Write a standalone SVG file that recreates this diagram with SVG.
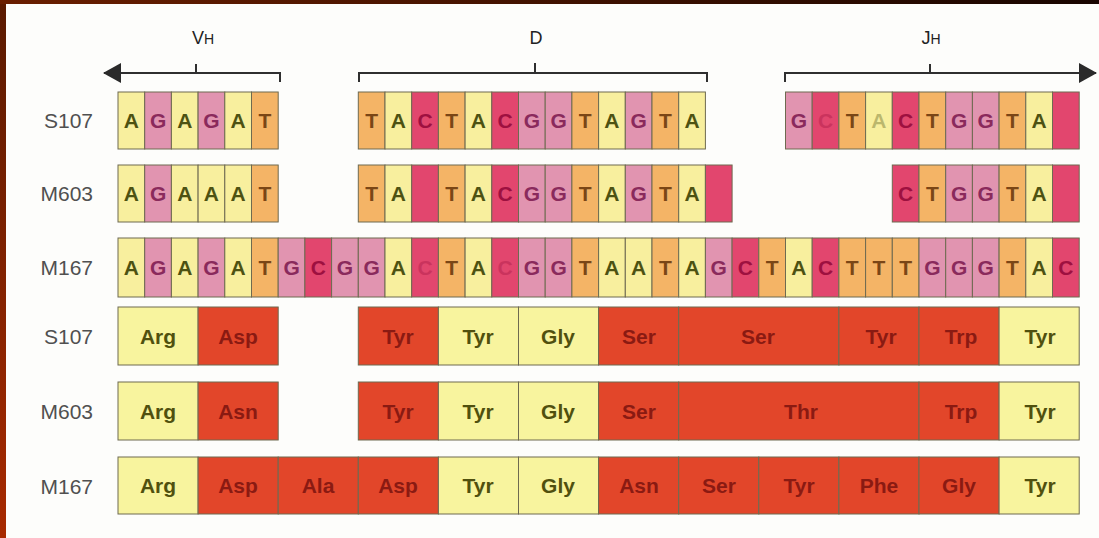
<svg xmlns="http://www.w3.org/2000/svg" width="1099" height="538" viewBox="0 0 1099 538">
<defs>
<linearGradient id="gl" x1="0" y1="0" x2="0" y2="1"><stop offset="0" stop-color="#5a1a00"/><stop offset="1" stop-color="#a82a00"/></linearGradient>
<linearGradient id="gt" x1="0" y1="0" x2="1" y2="0"><stop offset="0" stop-color="#6a1e00"/><stop offset="1" stop-color="#180500"/></linearGradient>
<marker id="ah" viewBox="0 0 18 20" refX="17" refY="10" markerWidth="18" markerHeight="20" markerUnits="userSpaceOnUse" orient="auto-start-reverse"><path d="M0,0 L18,10 L0,20 Z" fill="#2a2a2a"/></marker>
</defs>
<style>
.A{fill:#f8ef9e}.G{fill:#e194b0}.T{fill:#f4b466}.C{fill:#e2466e}.Y{fill:#f8f49e}.R{fill:#e2462a}
.A,.G,.T,.C,.Y,.R{stroke:#6e6a50;stroke-width:1}
.nt{font-family:"Liberation Sans",Arial,sans-serif;font-size:21px;font-weight:bold;text-anchor:middle}
.tA{fill:#4d5212}.tG{fill:#8a2a5c}.tT{fill:#7a4616}.tC{fill:#9e1040}.faint{opacity:0.35}
.aa{font-family:"Liberation Sans",Arial,sans-serif;font-size:21px;font-weight:bold;text-anchor:middle}
.ay{fill:#50500e}.ar{fill:#8a1a12}
.lbl{font-family:"Liberation Sans",Arial,sans-serif;font-size:21px;fill:#505050;text-anchor:end}
.hd{font-family:"Liberation Sans",Arial,sans-serif;font-size:18px;fill:#222;text-anchor:middle}
.br{fill:none;stroke:#2f2f2f;stroke-width:2}
</style>
<rect x="0" y="0" width="1099" height="538" fill="#fdfdfb"/>
<rect x="0" y="0" width="6" height="538" fill="url(#gl)"/>
<rect x="0" y="0" width="1099" height="4" fill="url(#gt)"/>

<g id="headers">
<text class="hd" x="203" y="44">V<tspan font-size="14">H</tspan></text>
<text class="hd" x="536" y="44">D</text>
<text class="hd" x="931" y="44">J<tspan font-size="14">H</tspan></text>
</g>

<g id="connectors">
<path class="br" d="M280,82 V73 H104" marker-end="url(#ah)"/>
<path class="br" d="M196,73 V64"/>
<path class="br" d="M359,82 V73 H707 V82"/>
<path class="br" d="M535,73 V63"/>
<path class="br" d="M785,82 V73 H1096" marker-end="url(#ah)"/>
<path class="br" d="M930,73 V64"/>
</g>

<g id="labels">
<text class="lbl" x="93" y="128">S107</text>
<text class="lbl" x="93" y="201">M603</text>
<text class="lbl" x="93" y="275">M167</text>
<text class="lbl" x="93" y="344">S107</text>
<text class="lbl" x="93" y="419">M603</text>
<text class="lbl" x="93" y="494">M167</text>
</g>

<g id="s107-nt">
<rect class="A" x="118" y="92" width="26.7" height="57"/><text class="nt tA" x="131.35" y="128">A</text>
<rect class="G" x="144.7" y="92" width="26.7" height="57"/><text class="nt tG" x="158.05" y="128">G</text>
<rect class="A" x="171.4" y="92" width="26.7" height="57"/><text class="nt tA" x="184.75" y="128">A</text>
<rect class="G" x="198.1" y="92" width="26.7" height="57"/><text class="nt tG" x="211.45" y="128">G</text>
<rect class="A" x="224.8" y="92" width="26.7" height="57"/><text class="nt tA" x="238.15" y="128">A</text>
<rect class="T" x="251.5" y="92" width="26.7" height="57"/><text class="nt tT" x="264.85" y="128">T</text>

<rect class="T" x="358.3" y="92" width="26.7" height="57"/><text class="nt tT" x="371.65" y="128">T</text>
<rect class="A" x="385" y="92" width="26.7" height="57"/><text class="nt tA" x="398.35" y="128">A</text>
<rect class="C" x="411.7" y="92" width="26.7" height="57"/><text class="nt tC" x="425.05" y="128">C</text>
<rect class="T" x="438.4" y="92" width="26.7" height="57"/><text class="nt tT" x="451.75" y="128">T</text>
<rect class="A" x="465.1" y="92" width="26.7" height="57"/><text class="nt tA" x="478.45" y="128">A</text>
<rect class="C" x="491.8" y="92" width="26.7" height="57"/><text class="nt tC" x="505.15" y="128">C</text>
<rect class="G" x="518.5" y="92" width="26.7" height="57"/><text class="nt tG" x="531.85" y="128">G</text>
<rect class="G" x="545.2" y="92" width="26.7" height="57"/><text class="nt tG" x="558.55" y="128">G</text>
<rect class="T" x="571.9" y="92" width="26.7" height="57"/><text class="nt tT" x="585.25" y="128">T</text>
<rect class="A" x="598.6" y="92" width="26.7" height="57"/><text class="nt tA" x="611.95" y="128">A</text>
<rect class="G" x="625.3" y="92" width="26.7" height="57"/><text class="nt tG" x="638.65" y="128">G</text>
<rect class="T" x="652" y="92" width="26.7" height="57"/><text class="nt tT" x="665.35" y="128">T</text>
<rect class="A" x="678.7" y="92" width="26.7" height="57"/><text class="nt tA" x="692.05" y="128">A</text>

<rect class="G" x="785.5" y="92" width="26.7" height="57"/><text class="nt tG" x="798.85" y="128">G</text>
<rect class="C" x="812.2" y="92" width="26.7" height="57"/><text class="nt tC faint" x="825.55" y="128">C</text>
<rect class="T" x="838.9" y="92" width="26.7" height="57"/><text class="nt tT" x="852.25" y="128">T</text>
<rect class="A" x="865.6" y="92" width="26.7" height="57"/><text class="nt tA faint" x="878.95" y="128">A</text>
<rect class="C" x="892.3" y="92" width="26.7" height="57"/><text class="nt tC" x="905.65" y="128">C</text>
<rect class="T" x="919" y="92" width="26.7" height="57"/><text class="nt tT" x="932.35" y="128">T</text>
<rect class="G" x="945.7" y="92" width="26.7" height="57"/><text class="nt tG" x="959.05" y="128">G</text>
<rect class="G" x="972.4" y="92" width="26.7" height="57"/><text class="nt tG" x="985.75" y="128">G</text>
<rect class="T" x="999.1" y="92" width="26.7" height="57"/><text class="nt tT" x="1012.45" y="128">T</text>
<rect class="A" x="1025.8" y="92" width="26.7" height="57"/><text class="nt tA" x="1039.15" y="128">A</text>
<rect class="C" x="1052.5" y="92" width="26.7" height="57"/>
</g>

<g id="m603-nt">
<rect class="A" x="118" y="165" width="26.7" height="57"/><text class="nt tA" x="131.35" y="201">A</text>
<rect class="G" x="144.7" y="165" width="26.7" height="57"/><text class="nt tG" x="158.05" y="201">G</text>
<rect class="A" x="171.4" y="165" width="26.7" height="57"/><text class="nt tA" x="184.75" y="201">A</text>
<rect class="A" x="198.1" y="165" width="26.7" height="57"/><text class="nt tA" x="211.45" y="201">A</text>
<rect class="A" x="224.8" y="165" width="26.7" height="57"/><text class="nt tA" x="238.15" y="201">A</text>
<rect class="T" x="251.5" y="165" width="26.7" height="57"/><text class="nt tT" x="264.85" y="201">T</text>

<rect class="T" x="358.3" y="165" width="26.7" height="57"/><text class="nt tT" x="371.65" y="201">T</text>
<rect class="A" x="385" y="165" width="26.7" height="57"/><text class="nt tA" x="398.35" y="201">A</text>
<rect class="C" x="411.7" y="165" width="26.7" height="57"/>
<rect class="T" x="438.4" y="165" width="26.7" height="57"/><text class="nt tT" x="451.75" y="201">T</text>
<rect class="A" x="465.1" y="165" width="26.7" height="57"/><text class="nt tA" x="478.45" y="201">A</text>
<rect class="C" x="491.8" y="165" width="26.7" height="57"/><text class="nt tC" x="505.15" y="201">C</text>
<rect class="G" x="518.5" y="165" width="26.7" height="57"/><text class="nt tG" x="531.85" y="201">G</text>
<rect class="G" x="545.2" y="165" width="26.7" height="57"/><text class="nt tG" x="558.55" y="201">G</text>
<rect class="T" x="571.9" y="165" width="26.7" height="57"/><text class="nt tT" x="585.25" y="201">T</text>
<rect class="A" x="598.6" y="165" width="26.7" height="57"/><text class="nt tA" x="611.95" y="201">A</text>
<rect class="G" x="625.3" y="165" width="26.7" height="57"/><text class="nt tG" x="638.65" y="201">G</text>
<rect class="T" x="652" y="165" width="26.7" height="57"/><text class="nt tT" x="665.35" y="201">T</text>
<rect class="A" x="678.7" y="165" width="26.7" height="57"/><text class="nt tA" x="692.05" y="201">A</text>
<rect class="C" x="705.4" y="165" width="26.7" height="57"/>

<rect class="C" x="892.3" y="165" width="26.7" height="57"/><text class="nt tC" x="905.65" y="201">C</text>
<rect class="T" x="919" y="165" width="26.7" height="57"/><text class="nt tT" x="932.35" y="201">T</text>
<rect class="G" x="945.7" y="165" width="26.7" height="57"/><text class="nt tG" x="959.05" y="201">G</text>
<rect class="G" x="972.4" y="165" width="26.7" height="57"/><text class="nt tG" x="985.75" y="201">G</text>
<rect class="T" x="999.1" y="165" width="26.7" height="57"/><text class="nt tT" x="1012.45" y="201">T</text>
<rect class="A" x="1025.8" y="165" width="26.7" height="57"/><text class="nt tA" x="1039.15" y="201">A</text>
<rect class="C" x="1052.5" y="165" width="26.7" height="57"/>
</g>

<g id="m167-nt">
<rect class="A" x="118" y="238" width="26.7" height="59"/><text class="nt tA" x="131.35" y="275">A</text>
<rect class="G" x="144.7" y="238" width="26.7" height="59"/><text class="nt tG" x="158.05" y="275">G</text>
<rect class="A" x="171.4" y="238" width="26.7" height="59"/><text class="nt tA" x="184.75" y="275">A</text>
<rect class="G" x="198.1" y="238" width="26.7" height="59"/><text class="nt tG" x="211.45" y="275">G</text>
<rect class="A" x="224.8" y="238" width="26.7" height="59"/><text class="nt tA" x="238.15" y="275">A</text>
<rect class="T" x="251.5" y="238" width="26.7" height="59"/><text class="nt tT" x="264.85" y="275">T</text>
<rect class="G" x="278.2" y="238" width="26.7" height="59"/><text class="nt tG" x="291.55" y="275">G</text>
<rect class="C" x="304.9" y="238" width="26.7" height="59"/><text class="nt tC" x="318.25" y="275">C</text>
<rect class="G" x="331.6" y="238" width="26.7" height="59"/><text class="nt tG" x="344.95" y="275">G</text>
<rect class="G" x="358.3" y="238" width="26.7" height="59"/><text class="nt tG" x="371.65" y="275">G</text>
<rect class="A" x="385" y="238" width="26.7" height="59"/><text class="nt tA" x="398.35" y="275">A</text>
<rect class="C" x="411.7" y="238" width="26.7" height="59"/><text class="nt tC faint" x="425.05" y="275">C</text>
<rect class="T" x="438.4" y="238" width="26.7" height="59"/><text class="nt tT" x="451.75" y="275">T</text>
<rect class="A" x="465.1" y="238" width="26.7" height="59"/><text class="nt tA" x="478.45" y="275">A</text>
<rect class="C" x="491.8" y="238" width="26.7" height="59"/><text class="nt tC faint" x="505.15" y="275">C</text>
<rect class="G" x="518.5" y="238" width="26.7" height="59"/><text class="nt tG" x="531.85" y="275">G</text>
<rect class="G" x="545.2" y="238" width="26.7" height="59"/><text class="nt tG" x="558.55" y="275">G</text>
<rect class="T" x="571.9" y="238" width="26.7" height="59"/><text class="nt tT" x="585.25" y="275">T</text>
<rect class="A" x="598.6" y="238" width="26.7" height="59"/><text class="nt tA" x="611.95" y="275">A</text>
<rect class="A" x="625.3" y="238" width="26.7" height="59"/><text class="nt tA" x="638.65" y="275">A</text>
<rect class="T" x="652" y="238" width="26.7" height="59"/><text class="nt tT" x="665.35" y="275">T</text>
<rect class="A" x="678.7" y="238" width="26.7" height="59"/><text class="nt tA" x="692.05" y="275">A</text>
<rect class="G" x="705.4" y="238" width="26.7" height="59"/><text class="nt tG" x="718.75" y="275">G</text>
<rect class="C" x="732.1" y="238" width="26.7" height="59"/><text class="nt tC" x="745.45" y="275">C</text>
<rect class="T" x="758.8" y="238" width="26.7" height="59"/><text class="nt tT" x="772.15" y="275">T</text>
<rect class="A" x="785.5" y="238" width="26.7" height="59"/><text class="nt tA" x="798.85" y="275">A</text>
<rect class="C" x="812.2" y="238" width="26.7" height="59"/><text class="nt tC" x="825.55" y="275">C</text>
<rect class="T" x="838.9" y="238" width="26.7" height="59"/><text class="nt tT" x="852.25" y="275">T</text>
<rect class="T" x="865.6" y="238" width="26.7" height="59"/><text class="nt tT" x="878.95" y="275">T</text>
<rect class="T" x="892.3" y="238" width="26.7" height="59"/><text class="nt tT" x="905.65" y="275">T</text>
<rect class="G" x="919" y="238" width="26.7" height="59"/><text class="nt tG" x="932.35" y="275">G</text>
<rect class="G" x="945.7" y="238" width="26.7" height="59"/><text class="nt tG" x="959.05" y="275">G</text>
<rect class="G" x="972.4" y="238" width="26.7" height="59"/><text class="nt tG" x="985.75" y="275">G</text>
<rect class="T" x="999.1" y="238" width="26.7" height="59"/><text class="nt tT" x="1012.45" y="275">T</text>
<rect class="A" x="1025.8" y="238" width="26.7" height="59"/><text class="nt tA" x="1039.15" y="275">A</text>
<rect class="C" x="1052.5" y="238" width="26.7" height="59"/><text class="nt tC" x="1065.85" y="275">C</text>
</g>

<g id="s107-aa">
<rect class="Y" x="118" y="307" width="80.1" height="58"/><text class="aa ay" x="158" y="344">Arg</text>
<rect class="R" x="198.1" y="307" width="80.1" height="58"/><text class="aa ar" x="238" y="344">Asp</text>
<rect class="R" x="358.3" y="307" width="80.1" height="58"/><text class="aa ar" x="398" y="344">Tyr</text>
<rect class="Y" x="438.4" y="307" width="80.1" height="58"/><text class="aa ay" x="478" y="344">Tyr</text>
<rect class="Y" x="518.5" y="307" width="80.1" height="58"/><text class="aa ay" x="558" y="344">Gly</text>
<rect class="R" x="598.6" y="307" width="80.1" height="58"/><text class="aa ar" x="639" y="344">Ser</text>
<rect class="R" x="678.7" y="307" width="160.2" height="58"/><text class="aa ar" x="758" y="344">Ser</text>
<rect class="R" x="838.9" y="307" width="80.1" height="58"/><text class="aa ar" x="881" y="344">Tyr</text>
<rect class="R" x="919" y="307" width="80.1" height="58"/><text class="aa ar" x="961" y="344">Trp</text>
<rect class="Y" x="999.1" y="307" width="80.1" height="58"/><text class="aa ay" x="1040" y="344">Tyr</text>
</g>

<g id="m603-aa">
<rect class="Y" x="118" y="382" width="80.1" height="58"/><text class="aa ay" x="158" y="419">Arg</text>
<rect class="R" x="198.1" y="382" width="80.1" height="58"/><text class="aa ar" x="238" y="419">Asn</text>
<rect class="R" x="358.3" y="382" width="80.1" height="58"/><text class="aa ar" x="398" y="419">Tyr</text>
<rect class="Y" x="438.4" y="382" width="80.1" height="58"/><text class="aa ay" x="478" y="419">Tyr</text>
<rect class="Y" x="518.5" y="382" width="80.1" height="58"/><text class="aa ay" x="558" y="419">Gly</text>
<rect class="R" x="598.6" y="382" width="80.1" height="58"/><text class="aa ar" x="639" y="419">Ser</text>
<rect class="R" x="678.7" y="382" width="240.3" height="58"/><text class="aa ar" x="801" y="419">Thr</text>
<rect class="R" x="919" y="382" width="80.1" height="58"/><text class="aa ar" x="961" y="419">Trp</text>
<rect class="Y" x="999.1" y="382" width="80.1" height="58"/><text class="aa ay" x="1040" y="419">Tyr</text>
</g>

<g id="m167-aa">
<rect class="Y" x="118" y="457" width="80.1" height="57"/><text class="aa ay" x="158" y="493">Arg</text>
<rect class="R" x="198.1" y="457" width="80.1" height="57"/><text class="aa ar" x="238" y="493">Asp</text>
<rect class="R" x="278.2" y="457" width="80.1" height="57"/><text class="aa ar" x="318" y="493">Ala</text>
<rect class="R" x="358.3" y="457" width="80.1" height="57"/><text class="aa ar" x="398" y="493">Asp</text>
<rect class="Y" x="438.4" y="457" width="80.1" height="57"/><text class="aa ay" x="478" y="493">Tyr</text>
<rect class="Y" x="518.5" y="457" width="80.1" height="57"/><text class="aa ay" x="558" y="493">Gly</text>
<rect class="R" x="598.6" y="457" width="80.1" height="57"/><text class="aa ar" x="639" y="493">Asn</text>
<rect class="R" x="678.7" y="457" width="80.1" height="57"/><text class="aa ar" x="719" y="493">Ser</text>
<rect class="R" x="758.8" y="457" width="80.1" height="57"/><text class="aa ar" x="799" y="493">Tyr</text>
<rect class="R" x="838.9" y="457" width="80.1" height="57"/><text class="aa ar" x="879" y="493">Phe</text>
<rect class="R" x="919" y="457" width="80.1" height="57"/><text class="aa ar" x="959" y="493">Gly</text>
<rect class="Y" x="999.1" y="457" width="80.1" height="57"/><text class="aa ay" x="1040" y="493">Tyr</text>
</g>
</svg>
